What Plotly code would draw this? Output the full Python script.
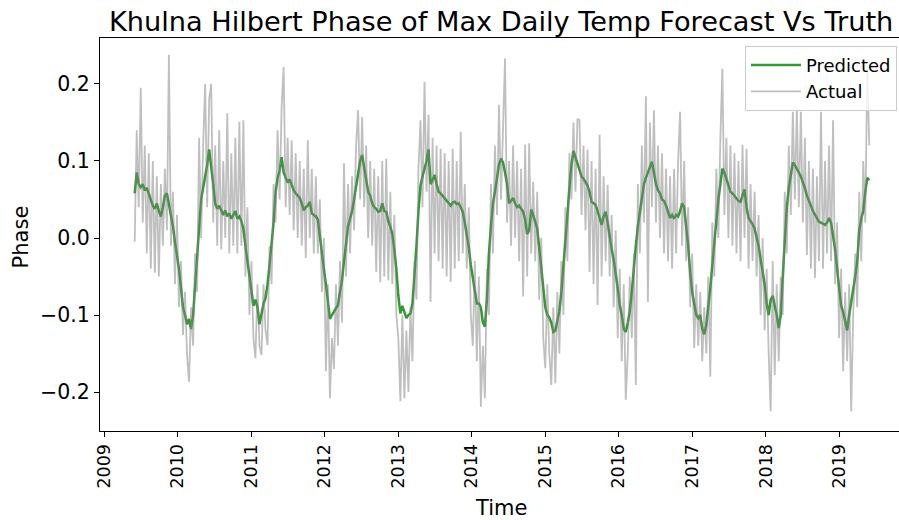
import pandas as pd
import plotly.graph_objects as go

# ---- data (10-day sampling starting 2009-06-01) ----
start_date = "2009-06-01"
step = "10D"

pred_2009 = [0.058, 0.085, 0.070, 0.066, 0.070, 0.062, 0.065, 0.058, 0.050, 0.042, 0.038, 0.045,
             0.035, 0.028, 0.040, 0.055, 0.058, 0.045, 0.030, 0.015, -0.005, -0.022]
pred_2010 = [-0.040, -0.065, -0.090, -0.100, -0.112, -0.105, -0.118, -0.100, -0.060, -0.020,
             0.010, 0.050, 0.065, 0.078, 0.095, 0.115, 0.095, 0.070, 0.045, 0.038,
             0.042, 0.035, 0.030, 0.036, 0.028, 0.032, 0.025, 0.030, 0.035, 0.025,
             0.028, 0.022, 0.012, -0.010, -0.030, -0.055]
pred_2011 = [-0.075, -0.088, -0.080, -0.090, -0.112, -0.100, -0.085, -0.078, -0.060, -0.035,
             -0.010, 0.020, 0.060, 0.078, 0.088, 0.105, 0.085, 0.078, 0.072, 0.076,
             0.068, 0.062, 0.058, 0.055, 0.052, 0.045, 0.036, 0.040, 0.042, 0.047,
             0.032, 0.030, 0.028, 0.024, 0.005, -0.015, -0.040]
pred_2012 = [-0.060, -0.080, -0.105, -0.100, -0.095, -0.092, -0.087, -0.070, -0.055, -0.030,
             -0.010, 0.015, 0.025, 0.035, 0.050, 0.065, 0.085, 0.100, 0.108, 0.090,
             0.075, 0.060, 0.055, 0.045, 0.040, 0.038, 0.034, 0.035, 0.045, 0.035,
             0.034, 0.022, 0.015, 0.005, -0.015, -0.040]
pred_2013 = [-0.075, -0.098, -0.088, -0.095, -0.104, -0.100, -0.098, -0.085, -0.050, -0.010,
             0.035, 0.068, 0.080, 0.090, 0.100, 0.115, 0.070, 0.075, 0.082, 0.070,
             0.060, 0.058, 0.055, 0.052, 0.048, 0.045, 0.042, 0.046, 0.047, 0.044,
             0.045, 0.040, 0.034, 0.020, 0.006, -0.012, -0.035]
pred_2014 = [-0.050, -0.070, -0.085, -0.085, -0.090, -0.110, -0.115, -0.080, -0.020, 0.015,
             0.045, 0.060, 0.078, 0.095, 0.103, 0.098, 0.085, 0.070, 0.045, 0.048,
             0.052, 0.045, 0.040, 0.042, 0.038, 0.034, 0.024, 0.005, 0.010, 0.037,
             0.030, 0.020, 0.012, -0.012, -0.040, -0.070]
pred_2015 = [-0.090, -0.100, -0.103, -0.110, -0.122, -0.120, -0.108, -0.095, -0.070, -0.040,
             -0.010, 0.030, 0.065, 0.095, 0.113, 0.105, 0.095, 0.090, 0.080, 0.077,
             0.072, 0.068, 0.060, 0.047, 0.045, 0.043, 0.035, 0.025, 0.017, 0.028,
             0.034, 0.020, 0.000, -0.015, -0.028, -0.045, -0.065]
pred_2016 = [-0.087, -0.100, -0.118, -0.122, -0.110, -0.095, -0.070, -0.035, -0.010, 0.015,
             0.034, 0.055, 0.070, 0.078, 0.086, 0.092, 0.099, 0.085, 0.070, 0.062,
             0.058, 0.050, 0.048, 0.042, 0.035, 0.026, 0.030, 0.025, 0.030, 0.028,
             0.035, 0.045, 0.040, 0.018, -0.010, -0.045, -0.070]
pred_2017 = [-0.085, -0.100, -0.104, -0.100, -0.118, -0.125, -0.113, -0.090, -0.065, -0.035,
             -0.005, 0.030, 0.050, 0.070, 0.090, 0.085, 0.077, 0.068, 0.060, 0.058,
             0.055, 0.052, 0.048, 0.047, 0.055, 0.063, 0.040, 0.026, 0.022, 0.018,
             0.012, 0.000, -0.010, -0.028, -0.045, -0.060]
pred_2018 = [-0.085, -0.100, -0.080, -0.075, -0.088, -0.100, -0.117, -0.100, -0.050, -0.010,
             0.040, 0.065, 0.085, 0.098, 0.095, 0.090, 0.087, 0.080, 0.072, 0.065,
             0.055, 0.047, 0.042, 0.035, 0.030, 0.025, 0.021, 0.020, 0.018, 0.017,
             0.020, 0.026, 0.020, 0.004, -0.015, -0.040, -0.065]
pred_2019 = [-0.088, -0.096, -0.110, -0.120, -0.100, -0.085, -0.070, -0.050, -0.030, 0.010,
             0.025, 0.035, 0.060, 0.078, 0.075]

act_2009 = [-0.005, 0.140, 0.040, 0.195, 0.020, 0.120, -0.020, 0.110, -0.040, 0.100, -0.045, 0.080,
            -0.050, 0.070, -0.010, 0.090, 0.010, 0.238, -0.010, 0.060, -0.060, 0.030]
act_2010 = [-0.090, -0.030, -0.126, -0.070, -0.152, -0.187, -0.090, -0.140, -0.020, -0.070,
            0.130, 0.000, 0.120, 0.200, 0.040, 0.180, 0.200, 0.020, 0.120, -0.010,
            0.140, -0.015, 0.100, 0.000, 0.162, -0.020, 0.110, -0.010, 0.130, -0.020,
            0.151, -0.010, 0.153, -0.050, 0.040, -0.100]
act_2011 = [-0.030, -0.130, -0.156, -0.060, -0.140, -0.152, -0.060, -0.120, -0.139, -0.010,
            -0.060, 0.070, 0.020, 0.140, 0.050, 0.170, 0.222, 0.040, 0.130, 0.030,
            0.127, 0.010, 0.110, 0.000, 0.100, -0.010, 0.090, -0.026, 0.127, 0.000,
            0.090, -0.020, 0.080, -0.020, 0.050, -0.070, 0.000]
act_2012 = [-0.173, -0.060, -0.208, -0.130, -0.170, -0.060, -0.140, -0.030, -0.110, 0.097,
            -0.050, 0.070, -0.020, 0.080, 0.010, 0.120, 0.166, 0.050, 0.157, 0.040,
            0.120, 0.000, 0.100, -0.010, 0.090, -0.044, 0.080, -0.057, 0.100, -0.050,
            0.103, -0.055, 0.060, -0.060, 0.030, -0.100]
act_2013 = [-0.130, -0.212, -0.100, -0.208, -0.120, -0.200, -0.090, -0.160, -0.030, -0.080,
            0.090, 0.153, 0.040, 0.203, 0.060, 0.160, -0.083, 0.130, -0.020, 0.120,
            -0.030, 0.116, -0.040, 0.110, -0.050, 0.100, -0.057, 0.116, -0.040, 0.100,
            -0.030, 0.138, -0.020, 0.070, -0.040, 0.040, -0.100]
act_2014 = [-0.140, -0.030, -0.160, -0.050, -0.219, -0.140, -0.208, -0.040, -0.100, 0.070,
            -0.020, 0.120, 0.030, 0.173, 0.050, 0.150, 0.233, 0.020, 0.100, -0.010,
            0.120, 0.000, 0.100, -0.030, 0.090, -0.076, 0.121, -0.050, 0.123, -0.020,
            0.073, -0.030, 0.060, -0.080, 0.000, -0.130]
act_2015 = [-0.169, -0.060, -0.150, -0.191, -0.090, -0.189, -0.070, -0.150, -0.030, -0.100,
            0.040, -0.030, 0.110, 0.050, 0.150, 0.060, 0.155, 0.153, 0.030, 0.120,
            0.010, 0.115, -0.044, 0.100, -0.060, 0.090, -0.087, 0.134, -0.050, 0.080,
            -0.030, 0.069, -0.050, 0.030, -0.090, 0.010, -0.130]
act_2016 = [-0.040, -0.160, -0.060, -0.210, -0.150, -0.050, -0.130, -0.020, -0.191, 0.070,
            -0.020, 0.120, 0.020, 0.184, -0.083, 0.150, 0.040, 0.166, 0.020, 0.120,
            0.000, 0.110, -0.020, 0.090, -0.030, 0.080, -0.040, 0.090, -0.020, 0.100,
            0.164, -0.010, 0.100, -0.030, 0.040, -0.090, -0.020]
act_2017 = [-0.143, -0.060, -0.140, -0.070, -0.160, -0.090, -0.150, -0.050, -0.180, 0.020,
            -0.050, 0.090, 0.000, 0.130, 0.220, 0.030, 0.130, 0.000, 0.120, -0.010,
            0.110, -0.020, 0.100, -0.030, 0.121, 0.000, 0.116, -0.040, 0.070, -0.030,
            0.060, -0.050, 0.030, -0.100, 0.000, -0.120]
act_2018 = [-0.040, -0.150, -0.225, -0.030, -0.178, -0.060, -0.160, -0.050, -0.100, 0.060,
            -0.020, 0.120, 0.030, 0.164, 0.050, 0.168, 0.040, 0.164, 0.020, 0.130,
            -0.022, 0.100, -0.040, 0.090, -0.052, 0.080, -0.030, 0.164, -0.040, 0.100,
            -0.020, 0.120, -0.030, 0.153, -0.060, 0.020, -0.130]
act_2019 = [-0.040, -0.173, -0.070, -0.160, -0.060, -0.225, -0.100, -0.020, -0.090, 0.060,
            -0.030, 0.100, 0.020, 0.220, 0.120]

year_ticks = list(range(2009, 2020))
y_tick_vals = [-0.2, -0.1, 0.0, 0.1, 0.2]
y_tick_text = ["\u22120.2", "\u22120.1", "0.0", "0.1", "0.2"]

# ---- assemble ----
predicted = (pred_2009 + pred_2010 + pred_2011 + pred_2012 + pred_2013 + pred_2014 +
             pred_2015 + pred_2016 + pred_2017 + pred_2018 + pred_2019)
actual = (act_2009 + act_2010 + act_2011 + act_2012 + act_2013 + act_2014 +
          act_2015 + act_2016 + act_2017 + act_2018 + act_2019)
dates_pred = pd.date_range(start_date, periods=len(predicted), freq=step)
dates_act = pd.date_range(start_date, periods=len(actual), freq=step)

FONT = "DejaVu Sans"

fig = go.Figure()
fig.add_trace(go.Scatter(x=dates_pred, y=predicted, mode="lines", name="Predicted",
                         line=dict(color="rgba(0,128,0,0.8)", width=2.5)))
fig.add_trace(go.Scatter(x=dates_act, y=actual, mode="lines", name="Actual",
                         line=dict(color="rgba(128,128,128,0.5)", width=1.8)))

fig.update_layout(
    width=899, height=520,
    margin=dict(l=100, r=0, t=38, b=89, pad=0),
    paper_bgcolor="white", plot_bgcolor="white",
    font=dict(family=FONT, color="black"),
    title=dict(text="Khulna Hilbert Phase of Max Daily Temp Forecast Vs Truth",
               font=dict(size=27.2, family=FONT, color="black"),
               xref="paper", x=0.502, xanchor="center",
               yref="container", y=1 - 21 / 520, yanchor="middle"),
    showlegend=True,
    legend=dict(x=0.9975, xanchor="right", y=0.98, yanchor="top",
                bgcolor="rgba(255,255,255,0.8)", bordercolor="#cccccc", borderwidth=1,
                itemwidth=50,
                font=dict(size=18, family=FONT, color="black")),
    xaxis=dict(type="date", range=["2008-12-10 14:00", "2019-10-24 14:00"],
               tickvals=[f"{y}-01-01" for y in year_ticks],
               ticktext=[str(y) for y in year_ticks],
               tickangle=-90, tickfont=dict(size=17.5, family=FONT, color="black"),
               ticks="outside", ticklen=5, tickwidth=1, tickcolor="black",
               showline=True, linecolor="black", linewidth=1, mirror=True,
               showgrid=False, zeroline=False),
    yaxis=dict(range=[-0.2506, 0.2597], tickvals=y_tick_vals, ticktext=y_tick_text,
               tickfont=dict(size=20.5, family=FONT, color="black"),
               ticks="outside", ticklen=5, tickwidth=1, tickcolor="black",
               showline=True, linecolor="black", linewidth=1, mirror=False,
               showgrid=False, zeroline=False),
    annotations=[
        dict(text="Time", xref="paper", yref="paper", x=0.502, y=(431 - 508) / 393,
             xanchor="center", yanchor="middle", showarrow=False,
             font=dict(size=21, family=FONT, color="black")),
        dict(text="Phase", xref="paper", yref="paper", x=(20.7 - 100) / 799, y=(431 - 236.7) / 393,
             xanchor="center", yanchor="middle", textangle=-90, showarrow=False,
             font=dict(size=21, family=FONT, color="black")),
    ],
)

fig.write_html("out.html", config={"displayModeBar": False},
               post_script="document.body.style.margin='0';document.body.style.overflow='hidden';")
